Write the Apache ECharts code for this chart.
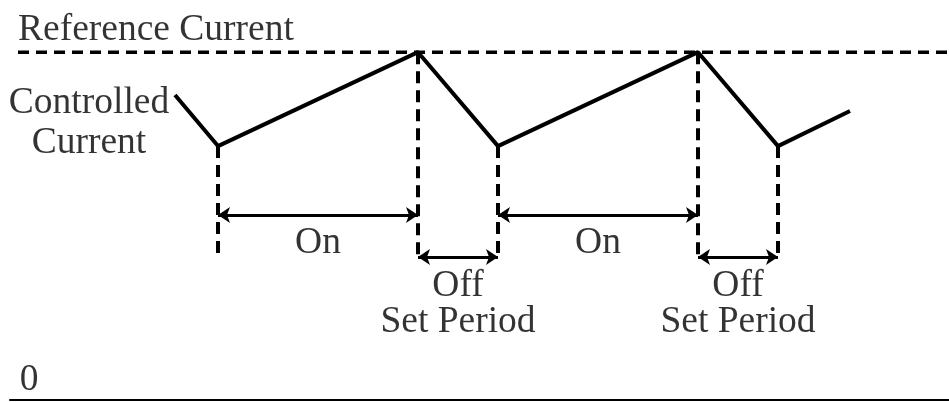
<!DOCTYPE html>
<html>
<head>
<meta charset="utf-8">
<script src="https://cdn.jsdelivr.net/npm/echarts@6/dist/echarts.min.js"></script>
<style>
  html, body { margin: 0; padding: 0; background: #fff; }
  #chart { width: 949px; height: 402px; }
</style>
</head>
<body>
<div id="chart"></div>
<script>
// time axis in arbitrary units, current normalised to the reference (1 = reference)
const times = [17.5, 21.8, 41.8, 49.8, 69.8, 77.8, 85.0];
const current = [0.877, 0.73, 1, 0.73, 1, 0.73, 0.831];
const referenceLevel = 1;
const referenceStart = 1.8;
const dashBottom = 0.403;
const onPeriods = [[21.8, 41.8], [49.8, 69.8]];
const offPeriods = [[41.8, 49.8], [69.8, 77.8]];
const onArrowLevel = 0.532;
const offArrowLevel = 0.411;

const FONT = '"Liberation Serif", "Times New Roman", serif';

// vertical dashed markers at every switching instant
const markerLines = times.slice(1, 6).map((t, i) => ({
  coords: [[t, current[i + 1]], [t, dashBottom]]
}));

const arrowLines = []
onPeriods.forEach(p => arrowLines.push({ coords: [[p[0], onArrowLevel], [p[1], onArrowLevel]] }));
offPeriods.forEach(p => arrowLines.push({ coords: [[p[0], offArrowLevel], [p[1], offArrowLevel]] }));

// text labels, placed in chart units
const labels = [];
onPeriods.forEach(p => labels.push({ value: [(p[0] + p[1]) / 2, 0.452], name: 'On' }));
offPeriods.forEach(p => {
  labels.push({ value: [(p[0] + p[1]) / 2, 0.326], name: 'Off' });
  labels.push({ value: [(p[0] + p[1]) / 2, 0.225], name: 'Set Period' });
});
labels.push({ value: [8.9, 0.797], name: 'Controlled\nCurrent' });
labels.push({ value: [2.9, 0.057], name: '0' });

const textStyle = {
  show: true, position: 'inside', formatter: '{b}',
  color: '#000', fontFamily: FONT, fontSize: 37.5, lineHeight: 40,
  textBorderWidth: 0, textBorderColor: 'transparent',
  verticalAlign: 'middle'
};

const myChart = echarts.init(document.getElementById('chart'));
myChart.setOption({
  animation: false,
  backgroundColor: '#fff',
  grid: { left: 10, right: 0, top: 0, bottom: 2 },
  xAxis: {
    type: 'value', min: 1, max: 94.9,
    axisLine: { show: true, onZero: false, lineStyle: { color: '#000', width: 2 } },
    axisTick: { show: false }, axisLabel: { show: false }, splitLine: { show: false }
  },
  yAxis: {
    type: 'value', min: 0, max: 1.15,
    axisLine: { show: false }, axisTick: { show: false },
    axisLabel: { show: false }, splitLine: { show: false }
  },
  series: [
    {
      type: 'line',
      data: [[referenceStart, referenceLevel], [94.9, referenceLevel]],
      showSymbol: false, silent: true,
      lineStyle: { color: '#000', width: 3.5, type: [11, 7] }
    },
    {
      type: 'line',
      data: times.map((t, i) => [t, current[i]]),
      showSymbol: false, silent: true,
      lineStyle: { color: '#000', width: 4 }
    },
    {
      type: 'lines',
      coordinateSystem: 'cartesian2d',
      data: markerLines,
      silent: true,
      lineStyle: { color: '#000', width: 4, type: [12, 7], opacity: 1 }
    },
    {
      type: 'lines',
      coordinateSystem: 'cartesian2d',
      data: arrowLines,
      silent: true,
      symbol: ['arrow', 'arrow'],
      symbolSize: 12,
      lineStyle: { color: '#000', width: 3, opacity: 1 }
    },
    {
      type: 'scatter',
      data: labels,
      symbolSize: 0,
      silent: true,
      clip: false,
      label: Object.assign({}, textStyle, { align: 'center' })
    },
    {
      type: 'scatter',
      data: [{ value: [referenceStart, 1.062], name: 'Reference Current' }],
      symbolSize: 0,
      silent: true,
      clip: false,
      label: Object.assign({}, textStyle, { align: 'left' })
    }
  ]
});
</script>
</body>
</html>
